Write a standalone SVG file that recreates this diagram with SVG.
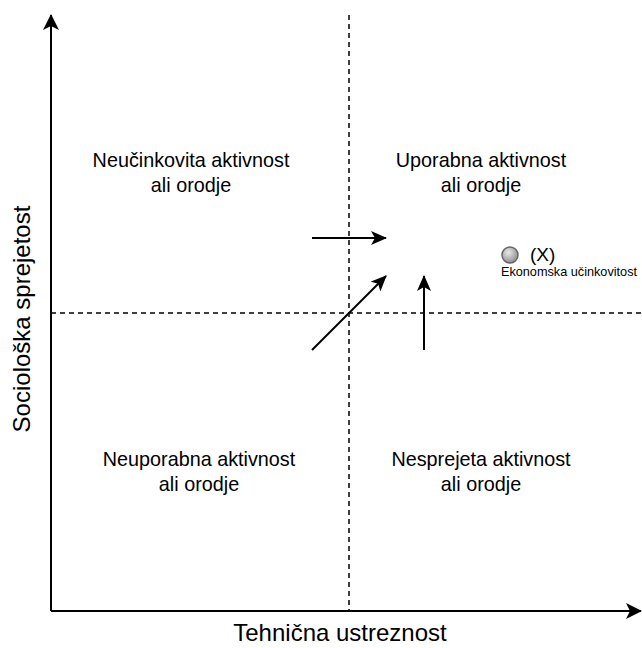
<svg xmlns="http://www.w3.org/2000/svg" width="642" height="648" viewBox="0 0 642 648">
<style>
.t{font-family:"Liberation Sans",Arial,sans-serif;fill:#000;text-anchor:middle}
.q{font-size:19.8px}
.ax{stroke:#000;stroke-width:2;fill:none}
.d{stroke:#000;stroke-width:1.5;stroke-dasharray:5 4;fill:none}
.a{stroke:#000;stroke-width:2;fill:none;marker-end:url(#ah)}
</style>
<defs>
<marker id="ah" viewBox="0 0 16 14" refX="15" refY="7" markerWidth="16" markerHeight="14" markerUnits="userSpaceOnUse" orient="auto">
<path d="M0,0 L16,7 L0,14 L4,7 Z" fill="#000"/>
</marker>
<marker id="axh" viewBox="0 0 16 16" refX="15" refY="8" markerWidth="16" markerHeight="16" markerUnits="userSpaceOnUse" orient="auto">
<path d="M0,0 L16,8 L0,16 L4,8 Z" fill="#000"/>
</marker>
<radialGradient id="g" cx="0.4" cy="0.35" r="0.7">
<stop offset="0" stop-color="#e8e8e8"/>
<stop offset="1" stop-color="#8a8a8a"/>
</radialGradient>
</defs>
<g id="connectors">
<line class="d" x1="349" y1="15" x2="349" y2="611"/>
<line class="d" x1="51" y1="313" x2="642" y2="313"/>
<path class="ax" d="M51,611 L51,15" marker-end="url(#axh)"/>
<path class="ax" d="M51,611 L641,611" marker-end="url(#axh)"/>
<line class="a" x1="312" y1="238" x2="386" y2="238"/>
<line class="a" x1="312" y1="350" x2="386" y2="276"/>
<line class="a" x1="424" y1="350" x2="424" y2="276"/>
</g>
<g id="q1"><text class="t q" x="191" y="167">Neučinkovita aktivnost</text><text class="t q" x="191" y="192">ali orodje</text></g>
<g id="q2"><text class="t q" x="481" y="167">Uporabna aktivnost</text><text class="t q" x="481" y="192">ali orodje</text></g>
<g id="q3"><text class="t q" x="199" y="466">Neuporabna aktivnost</text><text class="t q" x="199" y="491">ali orodje</text></g>
<g id="q4"><text class="t q" x="481" y="466">Nesprejeta aktivnost</text><text class="t q" x="481" y="491">ali orodje</text></g>
<g id="x">
<circle cx="510" cy="255" r="8" fill="url(#g)" stroke="#666" stroke-width="1.5"/>
<text class="t" x="530" y="261" style="font-size:19px;text-anchor:start">(X)</text>
<text class="t" x="569" y="276" style="font-size:12.7px">Ekonomska učinkovitost</text>
</g>
<g id="xlabel"><text class="t" x="340" y="641" style="font-size:24px">Tehnična ustreznost</text></g>
<g id="ylabel"><text class="t" transform="translate(30,319) rotate(-90)" style="font-size:24px">Sociološka sprejetost</text></g>
</svg>
